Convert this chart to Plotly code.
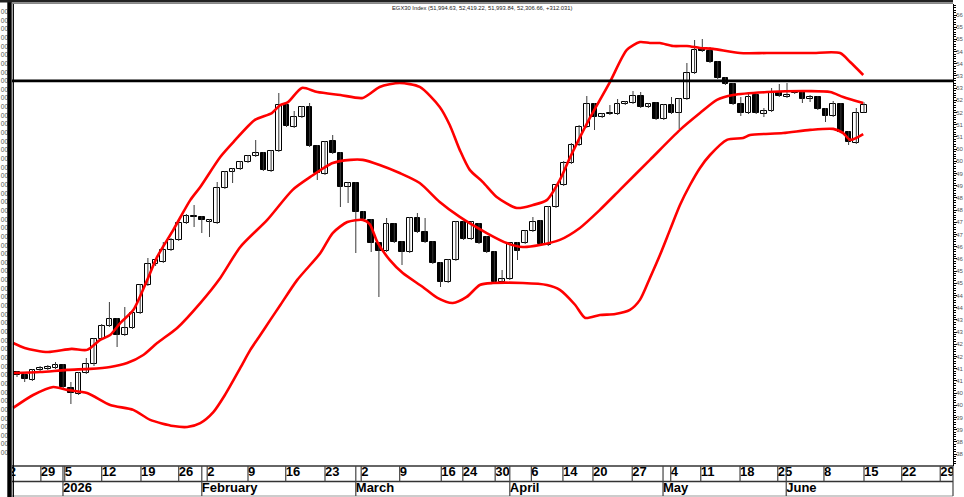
import plotly.graph_objects as go

# ---------------- data ----------------
days = list(range(111))  # trading-day index (late Dec 2025 -> 15 Jun 2026)
opens = [41240, 41240, 41035, 41445, 41486, 41527, 41650, 40707, 40461, 41322,
         41691, 42716, 43249, 43536, 42880, 43167, 43782, 44930, 45791, 45873,
         46365, 46775, 47472, 47759, 47718, 47513, 47472, 48907, 49563, 49686,
         49973, 50219, 50342, 49604, 50424, 52310, 51408, 51818, 52228, 50629,
         49481, 50834, 50342, 48948, 49112, 47923, 47595, 46652, 46324, 47431,
         46693, 46283, 47677, 47103, 46693, 45832, 45053, 45955, 47513, 46816,
         47431, 46898, 46283, 45053, 45176, 46652, 46652, 47144, 47554, 46570,
         48128, 49030, 49932, 50670, 51408, 52351, 51818, 51941, 51941, 52351,
         52392, 52679, 52228, 52392, 51736, 52310, 51982, 52556, 53622, 54606,
         54524, 54073, 53417, 53171, 52351, 51982, 52720, 51941, 52064, 52843,
         52638, 52802, 52884, 52556, 52638, 52146, 51859, 52351, 51203, 50752,
         51994.63]
highs = [41404, 41281, 41486, 41609, 41650, 41773, 41691, 40953, 41363, 41937,
         42757, 43331, 44233, 43577, 44028, 43864, 44971, 46037, 46037, 46693,
         46857, 47554, 47841, 48210, 47759, 47636, 49153, 49604, 49727, 50014,
         50260, 50875, 50383, 50465, 52802, 52351, 52064, 52269, 52392, 50670,
         50834, 51080, 50383, 49153, 49153, 47964, 47636, 46693, 47677, 47472,
         46734, 47718, 47882, 47677, 46734, 45873, 45996, 47554, 47554, 47554,
         47472, 46939, 46324, 45545, 46693, 46693, 47185, 47718, 47595, 48169,
         49071, 50014, 50752, 51490, 52679, 52392, 51982, 52310, 52556, 52474,
         52884, 52843, 52392, 52433, 52351, 52638, 52597, 54032, 54975, 55016,
         54688, 54114, 53458, 53212, 52638, 52843, 52761, 52187, 53007, 53171,
         53212, 52925, 52925, 52720, 52679, 52187, 52474, 52392, 51244, 52187,
         52419.22]
lows = [41158, 40953, 40994, 41404, 41445, 41486, 40707, 40051, 40420, 41281,
        41609, 42675, 43208, 42388, 42839, 43126, 43741, 44889, 45709, 45832,
        46324, 46734, 47431, 47308, 47062, 46898, 47431, 48866, 49112, 49645,
        49932, 50178, 49604, 49563, 50383, 51408, 51367, 51777, 50588, 49235,
        49440, 50301, 48128, 48292, 46242, 47595, 46283, 44438, 46283, 46652,
        45750, 46242, 47062, 46652, 45791, 44848, 45012, 45914, 46775, 46775,
        46611, 46242, 44971, 44971, 45135, 45955, 46611, 47103, 46570, 46529,
        48087, 48989, 49891, 50629, 51367, 51285, 51777, 51900, 51900, 52310,
        52351, 52187, 52187, 51695, 51695, 51941, 51326, 52515, 53581, 54483,
        54032, 53376, 53130, 52310, 51859, 51941, 51941, 51818, 52023, 52638,
        52597, 52761, 52392, 52433, 52105, 51613, 51818, 51162, 50670, 50711,
        51993.84]
closes = [41363, 41076, 41445, 41527, 41568, 41650, 40748, 40502, 41322, 41691,
          42716, 43249, 43536, 42880, 43167, 43782, 44930, 45791, 45955, 46365,
          46775, 47472, 47759, 47718, 47595, 47595, 48907, 49563, 49686, 49973,
          50219, 50342, 49645, 50424, 52310, 51449, 51818, 52228, 50629, 49522,
          50793, 50342, 48948, 49112, 47923, 47636, 46652, 46324, 47431, 46693,
          46283, 47677, 47103, 46693, 45832, 45053, 45955, 47513, 46816, 47513,
          46652, 46283, 45053, 45176, 46652, 46324, 47144, 47513, 46611, 48128,
          49030, 49932, 50670, 51408, 52351, 51818, 51941, 51982, 52351, 52433,
          52679, 52228, 52351, 51736, 52310, 51982, 52556, 53622, 54565, 54524,
          54073, 53417, 53171, 52351, 51982, 52638, 51982, 52064, 52843, 52679,
          52720, 52884, 52556, 52638, 52146, 51859, 52351, 51203, 50793, 51982,
          52306.66]

# Bollinger-style bands (x in trading-day index)
upper_x = [-0.5, 1.0, 4.0, 7.1, 9.1, 10.8, 12.1, 13.4, 15.1, 16.9, 18.2, 20.3, 22.5,
           23.8, 26.4, 28.1, 30.9, 33.1, 34.2, 35.2, 37.0, 39.0, 42.0, 44.9, 47.1,
           49.7, 52.3, 54.9, 56.2, 57.5, 58.8, 60.5, 62.3, 64.9, 67.0, 68.8, 70.5,
           71.8, 74.4, 77.0, 79.2, 80.9, 82.2, 83.5, 85.2, 87.0, 88.7, 90.4, 93.9,
           97.4, 103.0, 106.9, 108.2, 109.9]
upper_y = [42550, 42350, 42180, 42310, 42270, 42680, 42880, 43370, 43900, 45130, 46080,
           47190, 48410, 48950, 50180, 50790, 51700, 51980, 52310, 52430, 53010, 52840,
           52720, 52600, 53050, 53210, 53050, 52230, 51490, 50470, 49650, 49150, 48540,
           48090, 48210, 48410, 49240, 50140, 51780, 53250, 54570, 54890, 54850, 54850,
           54730, 54730, 54650, 54610, 54440, 54440, 54440, 54440, 54070, 53540]
mid_x = [-0.5, 3.0, 6.5, 9.5, 12.1, 14.3, 16.4, 18.2, 20.8, 23.8, 26.4, 29.0, 32.5,
         35.8, 38.1, 41.0, 43.3, 44.9, 47.1, 49.7, 52.3, 54.9, 57.5, 61.0, 63.6, 65.7,
         67.9, 70.5, 73.1, 75.7, 78.3, 82.2, 86.1, 88.7, 90.9, 93.0, 97.4, 103.0,
         105.6, 107.3, 109.9]
mid_y = [41320, 41360, 41450, 41490, 41570, 41730, 42060, 42550, 43170, 44190, 45220,
         46490, 47600, 48830, 49360, 49930, 50060, 50060, 49850, 49520, 49110, 48330,
         47720, 47060, 46650, 46490, 46570, 46780, 47270, 48010, 48830, 50060, 51290,
         51980, 52520, 52720, 52840, 52880, 52840, 52640, 52390]
lower_x = [-0.5, 2.1, 4.7, 6.5, 9.1, 12.1, 15.1, 17.3, 20.3, 22.1, 23.8, 25.5, 27.0,
           29.0, 30.3, 31.6, 32.9, 34.2, 36.4, 39.4, 41.0, 42.9, 44.9, 45.8, 46.8,
           48.4, 50.1, 52.7, 54.6, 56.6, 58.4, 60.1, 61.8, 65.7, 68.8, 70.5, 72.5,
           73.8, 75.7, 77.7, 79.6, 80.9, 82.2, 83.5, 84.8, 86.1, 87.4, 88.7, 90.0,
           92.2, 94.3, 95.2, 99.5, 103.0, 106.0, 107.3, 108.2, 109.9]
lower_y = [39890, 40420, 40750, 40630, 40500, 40010, 39810, 39400, 39150, 39110, 39270,
           39720, 40420, 41530, 42270, 42880, 43500, 44110, 45140, 46240, 47060, 47510,
           47600, 47430, 46690, 45960, 45420, 44850, 44400, 44190, 44440, 44930, 45010,
           45010, 44930, 44730, 44110, 43580, 43700, 43740, 43910, 44320, 45220, 46160,
           47190, 48210, 49030, 49730, 50260, 50880, 50960, 51080, 51160, 51290, 51330,
           51160, 50880, 51120]

resistance = 53300

week_pos = [-2.0, 3.1, 6.2, 11.0, 16.1, 21.0, 24.7, 30.0, 34.9, 40.0, 44.7, 49.7, 55.1,
            57.9, 62.1, 66.8, 70.9, 74.8, 79.9, 84.9, 88.8, 93.9, 98.8, 104.8, 110.0,
            114.9, 119.9]
week_labels = ["22", "29", "5", "12", "19", "26", "2", "9", "16", "23", "2", "9", "16",
               "24", "30", "6", "14", "20", "27", "4", "11", "18", "25", "8", "15",
               "22", "29"]
month_pos = [5.97, 24.0, 44.0, 64.0, 83.9, 99.9]
month_labels = ["2026", "February", "March", "April", "May", "June"]

# right price axis: ticks every 500, only the leading two digits are visible
price_tick_vals = list(range(38000, 56001, 500))
price_tick_text = [str(v // 1000) for v in price_tick_vals]

left_tick_vals = list(range(0, 52))
left_tick_text = ["00"] * len(left_tick_vals)

title_text = "EGX30 Index (51,994.63, 52,419.22, 51,993.84, 52,306.66, +312.031)"

# ---------------- layout geometry ----------------
W, H = 964, 497
ML, MR, MT, MB = 12, 11, 4, 0
PW, PH = W - ML - MR, H - MT - MB
LABEL_H = 31
split = LABEL_H / PH
X_RANGE = [-0.6494, 121.558]
Y_RANGE = [37509, 56451]
L_RANGE = [-1.52, 51.89]


def py(ypx):
    """paper y for a pixel row"""
    return (H - MB - ypx) / PH


def px(xpx):
    return (xpx - ML) / PW


fig = go.Figure()

# wicks
wx, wy = [], []
for d, h, l in zip(days, highs, lows):
    wx += [d, d, None]
    wy += [l, h, None]
fig.add_trace(go.Scatter(x=wx, y=wy, mode="lines", line=dict(color="#3a3a3a", width=1),
                         hoverinfo="skip", showlegend=False))

# bodies
up = [(d, o, c) for d, o, c in zip(days, opens, closes) if c >= o]
dn = [(d, o, c) for d, o, c in zip(days, opens, closes) if c < o]
fig.add_trace(go.Bar(x=[u[0] for u in up], y=[u[2] - u[1] for u in up],
                     base=[u[1] for u in up], width=0.74,
                     marker=dict(color="white", line=dict(color="black", width=1)),
                     showlegend=False, hoverinfo="skip"))
fig.add_trace(go.Bar(x=[u[0] for u in dn], y=[u[1] - u[2] for u in dn],
                     base=[u[2] for u in dn], width=0.74,
                     marker=dict(color="black", line=dict(color="black", width=1)),
                     showlegend=False, hoverinfo="skip"))

# bands
for bx, by in ((upper_x, upper_y), (mid_x, mid_y), (lower_x, lower_y)):
    fig.add_trace(go.Scatter(x=bx, y=by, mode="lines",
                             line=dict(color="#ff0000", width=2.6, shape="spline", smoothing=0.7),
                             hoverinfo="skip", showlegend=False))

# left axis dummy trace (to activate y2)
fig.add_trace(go.Scatter(x=[None], y=[None], yaxis="y2", showlegend=False))

lab_font = dict(family="Arial, 'Liberation Sans', sans-serif", size=13, color="black", weight="bold")
fig.add_trace(go.Scatter(x=week_pos, y=[24.3] * len(week_pos), mode="text", text=week_labels,
                         textposition="middle right", textfont=lab_font, xaxis="x", yaxis="y3",
                         cliponaxis=True, hoverinfo="skip", showlegend=False))
fig.add_trace(go.Scatter(x=month_pos, y=[8.6] * len(month_pos), mode="text", text=month_labels,
                         textposition="middle right", textfont=lab_font, xaxis="x", yaxis="y3",
                         cliponaxis=True, hoverinfo="skip", showlegend=False))

shapes = []
# resistance line
shapes.append(dict(type="line", xref="paper", yref="y", x0=0, x1=1, y0=resistance, y1=resistance,
                   line=dict(color="black", width=2.6)))
# label-row grid
for ypx, col, wd in ((466, "#333", 1.3), (481.5, "#333", 1.3), (496, "#999", 1.2)):
    shapes.append(dict(type="line", xref="paper", yref="paper", x0=0, x1=1, y0=py(ypx), y1=py(ypx),
                       line=dict(color=col, width=wd)))
for p in week_pos:
    shapes.append(dict(type="line", xref="x", yref="paper", x0=p, x1=p, y0=py(466), y1=py(481.5),
                       line=dict(color="#444", width=1.2)))
for p in month_pos:
    shapes.append(dict(type="line", xref="x", yref="paper", x0=p, x1=p, y0=py(466), y1=py(496),
                       line=dict(color="#444", width=1.2)))
shapes.append(dict(type="line", xref="paper", yref="paper", x0=1, x1=1, y0=py(466), y1=py(496),
                   line=dict(color="#444", width=1.2)))
# left frame (thick + thin)
shapes.append(dict(type="line", xref="paper", yref="paper", x0=px(9.5), x1=px(9.5), y0=0, y1=py(0),
                   line=dict(color="black", width=4.4)))
shapes.append(dict(type="line", xref="paper", yref="paper", x0=px(13.3), x1=px(13.3), y0=0, y1=py(3),
                   line=dict(color="black", width=1.3)))
# top frame
shapes.append(dict(type="line", xref="paper", yref="paper", x0=px(0), x1=1, y0=py(1.2), y1=py(1.2),
                   line=dict(color="#222", width=2.6)))
shapes.append(dict(type="line", xref="paper", yref="paper", x0=px(12), x1=1, y0=py(3.5), y1=py(3.5),
                   line=dict(color="#888", width=1)))

axis_font = dict(family="Arial, 'Liberation Sans', sans-serif", size=6.5, color="#555")
right_font = dict(family="Arial, 'Liberation Sans', sans-serif", size=6, color="#555")

fig.update_layout(
    width=W, height=H,
    margin=dict(l=ML, r=MR, t=MT, b=MB, pad=0),
    paper_bgcolor="white", plot_bgcolor="white",
    showlegend=False, barmode="overlay", bargap=0,
    shapes=shapes,
    xaxis=dict(range=X_RANGE, visible=False, fixedrange=True, anchor="y"),
    yaxis=dict(range=Y_RANGE, domain=[split, 1], side="right", anchor="x",
               showgrid=False, zeroline=False, showline=True, linecolor="black", linewidth=1,
               ticks="outside", ticklen=3, tickwidth=1, tickcolor="black",
               tickmode="array", tickvals=price_tick_vals, ticktext=price_tick_text,
               tickfont=right_font, ticklabelstandoff=-2, automargin=False,
               minor=dict(ticks="outside", ticklen=2, tickmode="linear", tick0=0, dtick=100,
                          tickcolor="black", tickwidth=1, showgrid=False)),
    yaxis2=dict(range=L_RANGE, overlaying="y", side="left", anchor="x",
                showgrid=False, zeroline=False, showline=False, ticks="",
                tickmode="array", tickvals=left_tick_vals, ticktext=left_tick_text,
                tickfont=axis_font, ticklabelstandoff=3, automargin=False),
    yaxis3=dict(range=[0, LABEL_H], domain=[0, split], anchor="x", visible=False, fixedrange=True),
    annotations=[dict(text=title_text, xref="paper", yref="paper", x=px(482), y=py(7.5),
                      xanchor="center", yanchor="middle", showarrow=False,
                      font=dict(family="Arial, 'Liberation Sans', sans-serif", size=5.8, color="#222"))],
)

fig.write_html("out.html")
